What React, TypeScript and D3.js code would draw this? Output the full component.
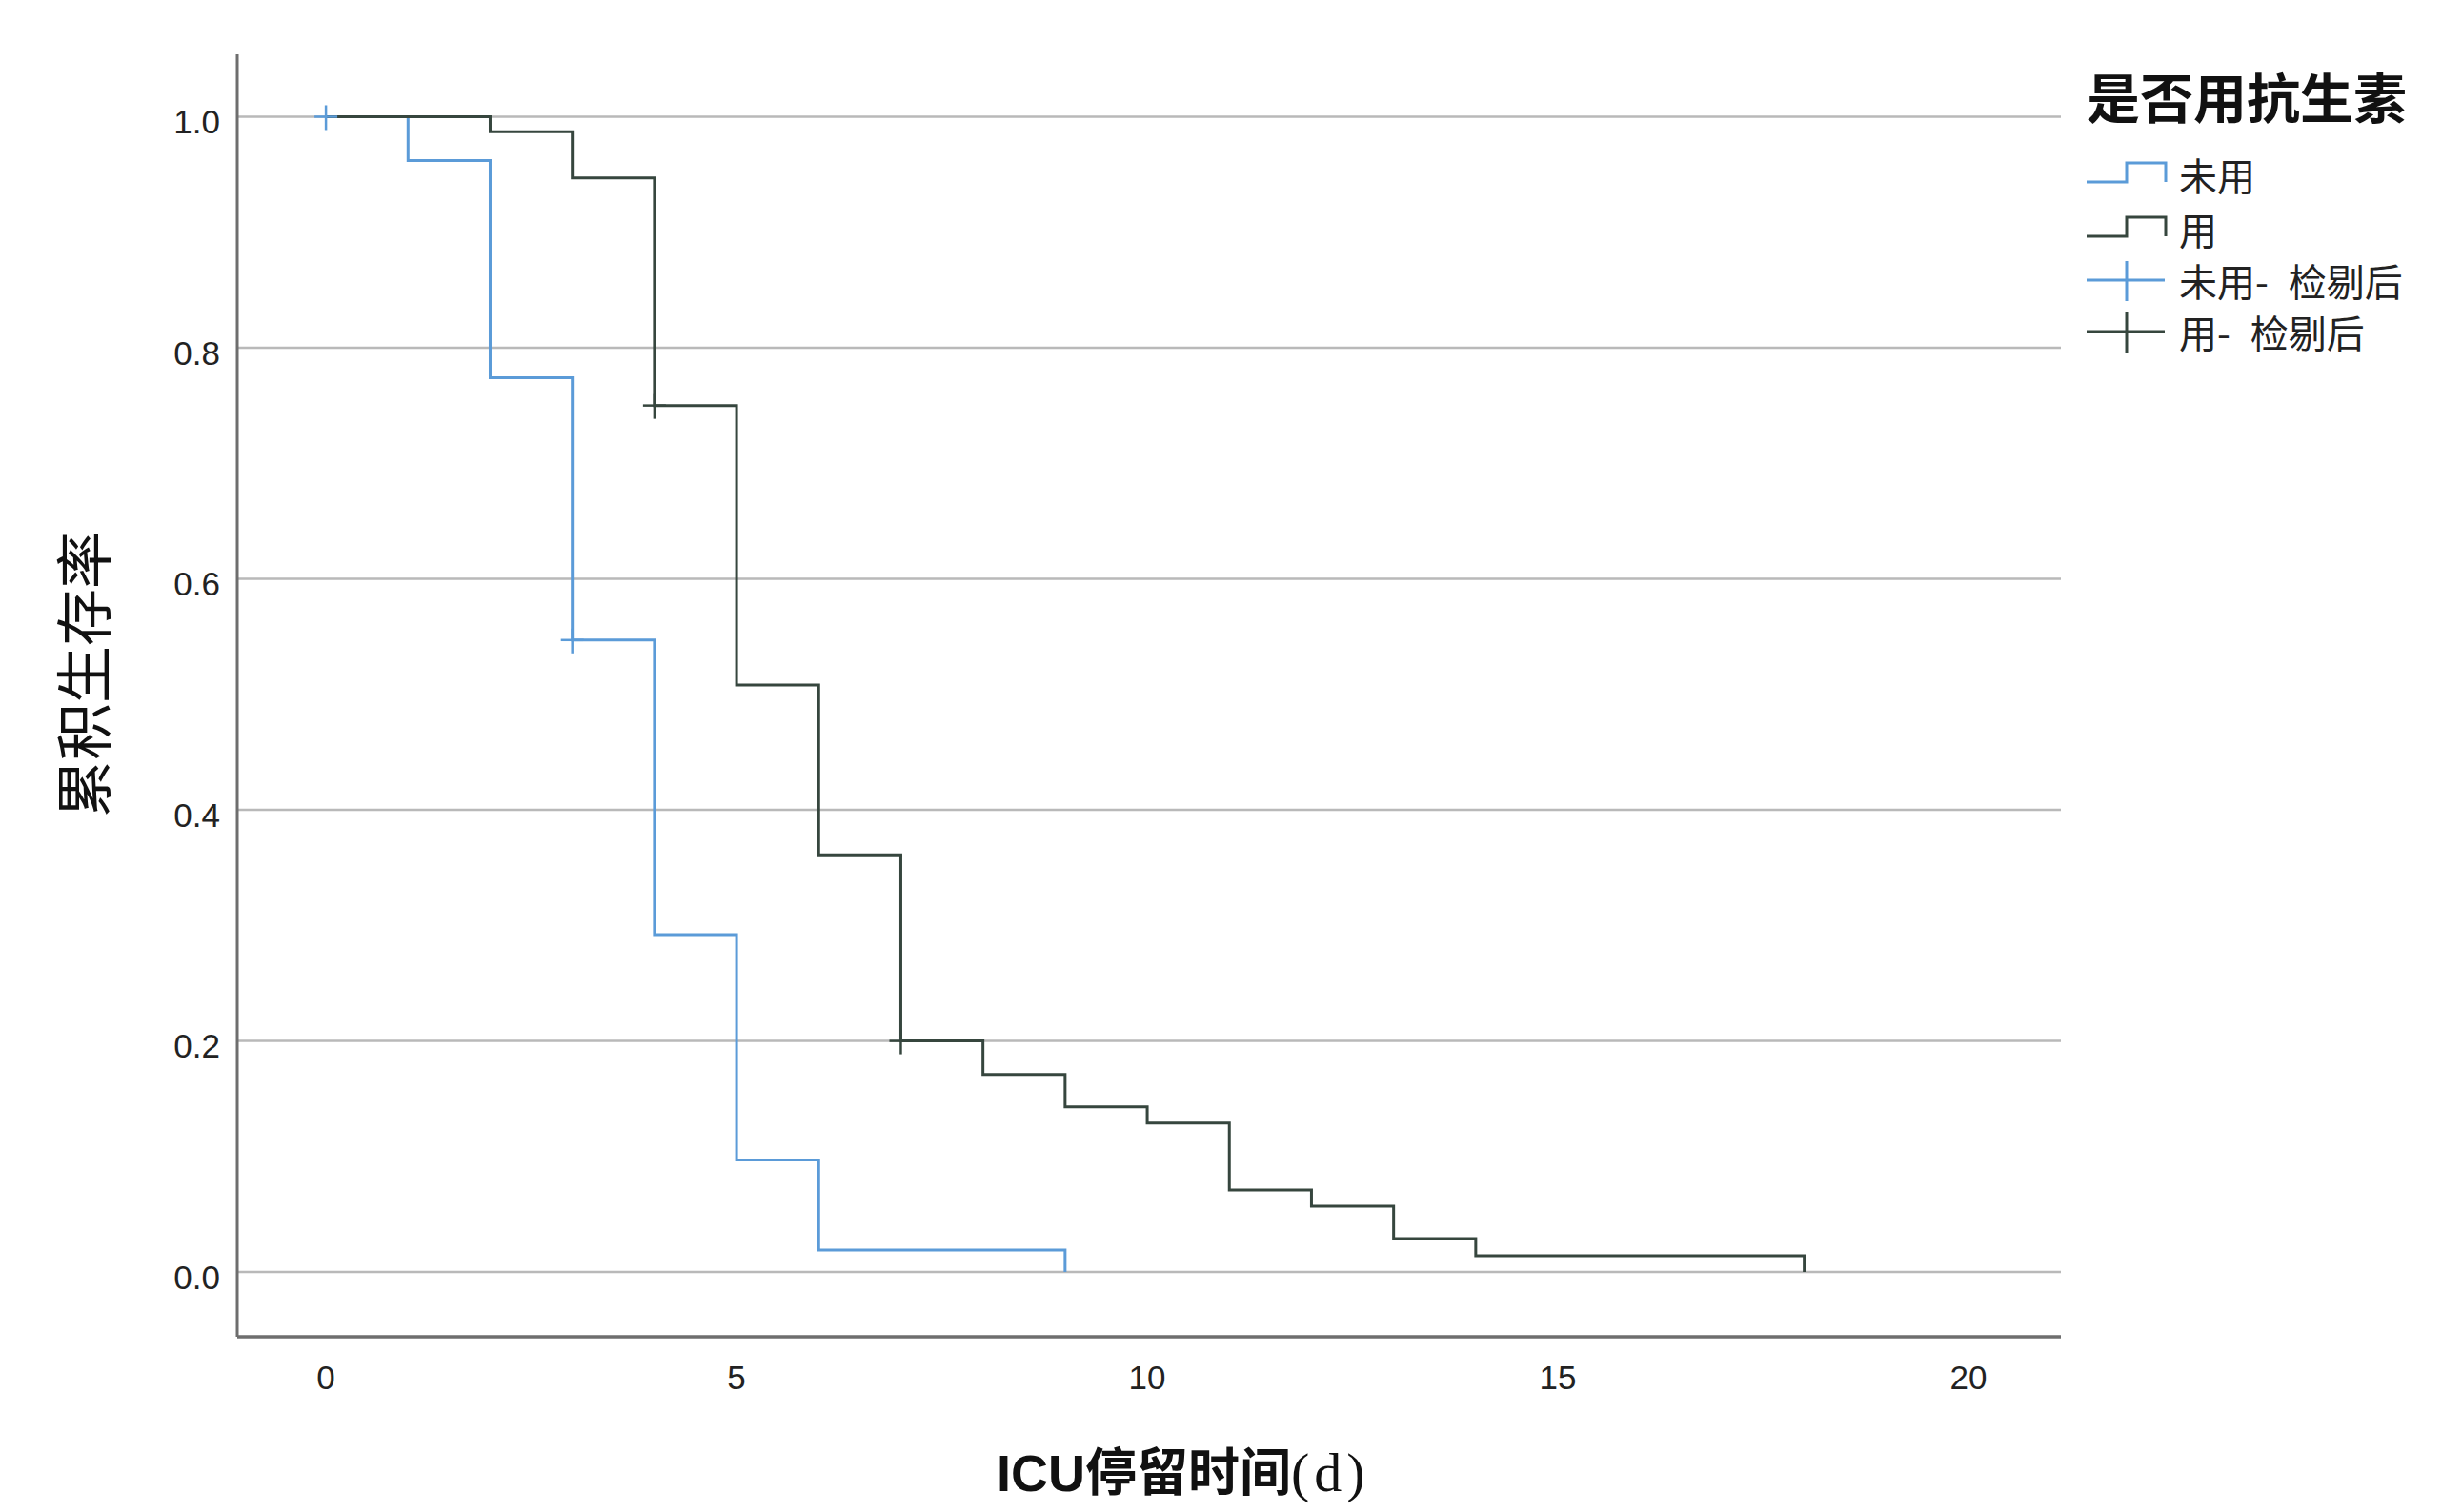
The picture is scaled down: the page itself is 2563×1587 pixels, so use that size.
import React from "react";
import * as d3 from "d3";

const unusedTimes = [0, 1, 2, 3, 4, 5, 6, 9];
const unusedSurv = [1.0, 0.962, 0.774, 0.547, 0.292, 0.097, 0.019, 0.0];
const usedTimes = [0, 2, 3, 4, 5, 6, 7, 8, 9, 10, 11, 12, 13, 14, 18];
const usedSurv = [1.0, 0.987, 0.947, 0.75, 0.508, 0.361, 0.2, 0.171, 0.143, 0.129, 0.071, 0.057, 0.029, 0.014, 0.0];
const unusedCensorT = [0, 3];
const unusedCensorS = [1.0, 0.547];
const usedCensorT = [4, 7];
const usedCensorS = [0.75, 0.2];

const xTicks = [0, 5, 10, 15, 20];
const yTicks = [0, 0.2, 0.4, 0.6, 0.8, 1.0];

const legendTitle = "是否用抗生素";
const legendLabels = ["未用", "用", "未用- 检剔后", "用- 检剔后"];
const yTitle = "累积生存率";

const BLUE = "#5b9bd8";
const DARK = "#36463e";

export default function App() {
  const W = 2563;
  const H = 1587;
  const x = d3.scaleLinear().domain([-1.08, 21.125]).range([249, 2163]);
  const y = d3.scaleLinear().domain([-0.056, 1.054]).range([1403, 57]);

  const line = d3
    .line<[number, number]>()
    .x((d) => x(d[0]))
    .y((d) => y(d[1]))
    .curve(d3.curveStepAfter);

  const unusedPts = unusedTimes.map((t, i) => [t, unusedSurv[i]] as [number, number]);
  const usedPts = usedTimes.map((t, i) => [t, usedSurv[i]] as [number, number]);

  const [x0, x1] = x.range();
  const [yb, yt] = y.range();

  const plus = (cx: number, cy: number, color: string, key: string) => (
    <g key={key} stroke={color} strokeWidth={2.5}>
      <line x1={cx - 12} x2={cx + 12} y1={cy} y2={cy} />
      <line x1={cx} x2={cx} y1={cy - 12} y2={cy + 14} />
    </g>
  );

  const legendY = [183, 240, 294, 348];
  const legendColors = [BLUE, DARK, BLUE, DARK];

  return (
    <div style={{ position: "absolute", left: 0, top: 0 }}>
      <svg width={W} height={H} style={{ display: "block", background: "#fff" }}>
        {yTicks.map((v) => (
          <line key={"g" + v} x1={x0} x2={x1} y1={y(v)} y2={y(v)} stroke="#b9b9b9" strokeWidth={2.5} />
        ))}
        <line x1={x0} x2={x0} y1={yt} y2={yb} stroke="#6e6e6e" strokeWidth={3} />
        <line x1={x0} x2={x1} y1={yb} y2={yb} stroke="#6e6e6e" strokeWidth={3.5} />
        {yTicks.map((v) => (
          <text
            key={"yl" + v}
            x={231}
            y={y(v) + 5}
            textAnchor="end"
            dominantBaseline="central"
            fontFamily="'Liberation Sans', Arial, sans-serif"
            fontSize={35}
            fill="#222"
          >
            {v.toFixed(1)}
          </text>
        ))}
        {xTicks.map((v) => (
          <text
            key={"xl" + v}
            x={x(v)}
            y={1445}
            textAnchor="middle"
            dominantBaseline="central"
            fontFamily="'Liberation Sans', Arial, sans-serif"
            fontSize={35}
            fill="#222"
          >
            {v}
          </text>
        ))}
        <path d={line(unusedPts) || ""} fill="none" stroke={BLUE} strokeWidth={3} />
        <path d={line(usedPts) || ""} fill="none" stroke={DARK} strokeWidth={3} />
        {unusedCensorT.map((t, i) => plus(x(t), y(unusedCensorS[i]), BLUE, "uc" + i))}
        {usedCensorT.map((t, i) => plus(x(t), y(usedCensorS[i]), DARK, "sc" + i))}
        <text
          transform={`translate(111, 708) rotate(-90)`}
          textAnchor="middle"
          fontFamily="'Noto Sans CJK SC', sans-serif"
          fontSize={60}
          fill="#111"
        >
          {yTitle}
        </text>
        <text x={1046} y={1565} fontSize={54} fill="#111">
          <tspan fontFamily="'Liberation Sans', Arial, sans-serif" fontWeight="bold">ICU</tspan>
          <tspan fontFamily="'Noto Sans CJK SC', sans-serif" fontWeight="bold">停留时间</tspan>
          <tspan fontFamily="'Liberation Serif', serif" fontSize={58} letterSpacing={5}>(d)</tspan>
        </text>
        <text
          x={2190}
          y={124}
          fontFamily="'Noto Sans CJK SC', sans-serif"
          fontWeight="bold"
          fontSize={56}
          fill="#111"
        >
          {legendTitle}
        </text>
        {legendLabels.map((lab, i) => {
          const cy = legendY[i];
          const c = legendColors[i];
          return (
            <g key={"lg" + i}>
              {i < 2 ? (
                <path
                  d={`M2190,${cy + 8}H2232V${cy - 12}H2273V${cy + 8}`}
                  fill="none"
                  stroke={c}
                  strokeWidth={3}
                />
              ) : (
                <g stroke={c} strokeWidth={3}>
                  <line x1={2190} x2={2272} y1={cy} y2={cy} />
                  <line x1={2232} x2={2232} y1={cy - 20} y2={cy + 22} />
                </g>
              )}
              <text
                x={2287}
                y={cy}
                dominantBaseline="central"
                fontFamily="'Noto Sans CJK SC', sans-serif"
                fontSize={40}
                wordSpacing={12}
                fill="#222"
              >
                {lab}
              </text>
            </g>
          );
        })}
      </svg>
    </div>
  );
}
